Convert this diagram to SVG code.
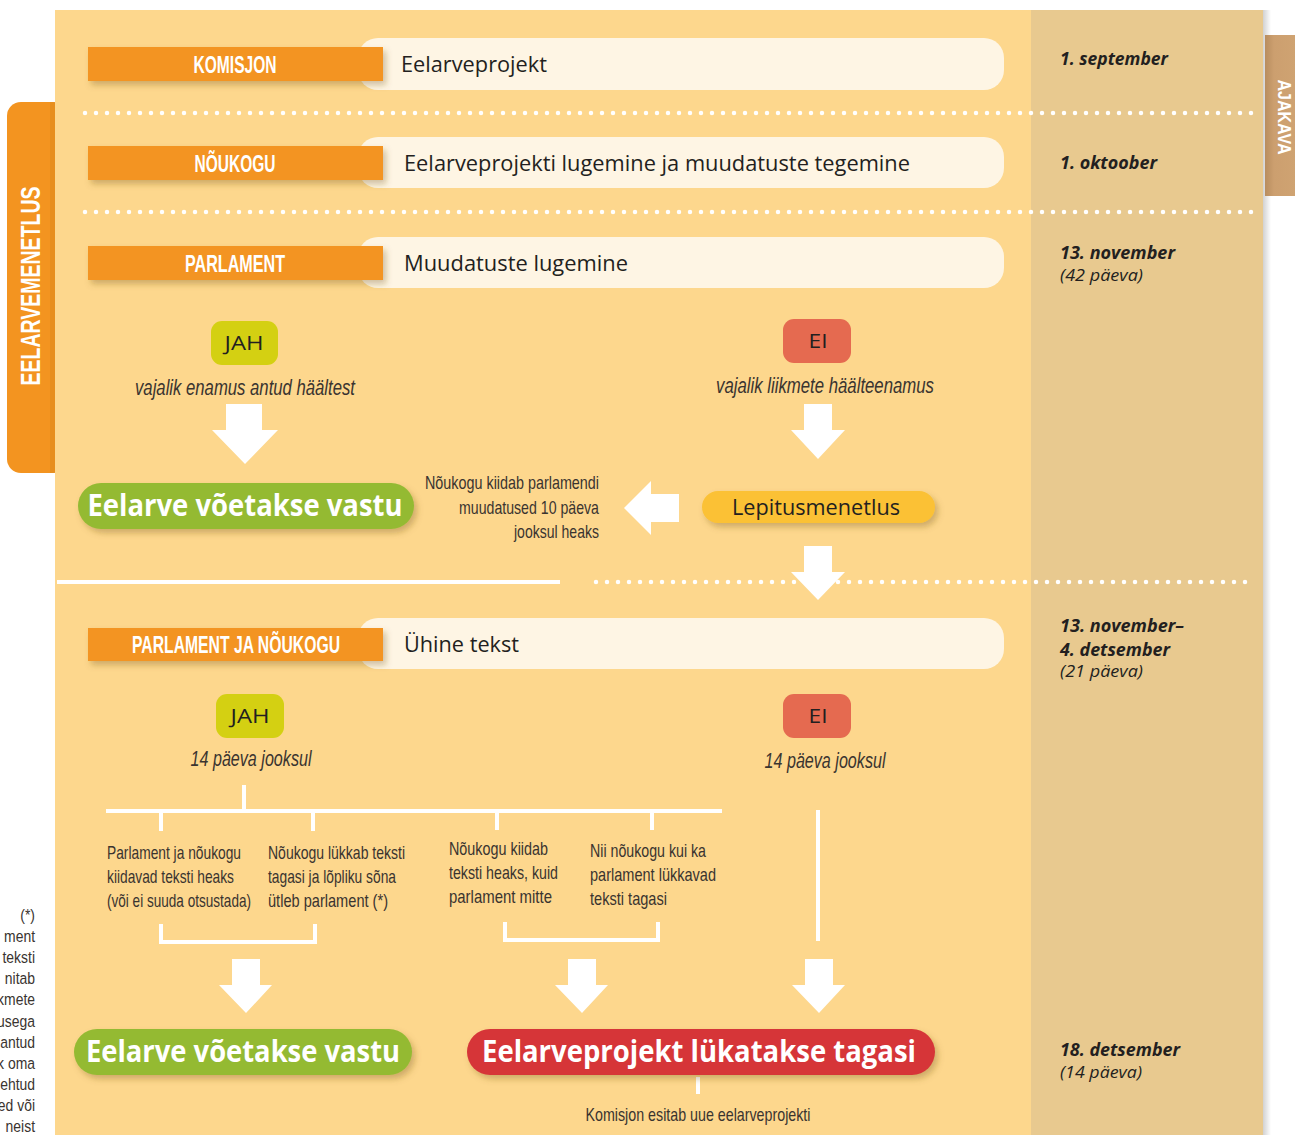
<svg xmlns="http://www.w3.org/2000/svg" width="1295" height="1135" viewBox="0 0 1295 1135">
<style>
.bar{fill:#F39420}
.pill{fill:#FEF5E4}
.barT{font-family:"Liberation Sans",Arial,sans-serif;font-weight:bold;font-size:24px;fill:#fff;text-anchor:middle}
.pillT{font-family:"Open Sans","Liberation Sans",sans-serif;font-size:22px;fill:#231F20}
.date{font-family:"Open Sans","Liberation Sans",sans-serif;font-style:italic;font-weight:bold;font-size:17px;fill:#231F20}
.dateR{font-family:"Open Sans","Liberation Sans",sans-serif;font-style:italic;font-size:17px;fill:#231F20}
.badgeT{font-family:"Open Sans","Liberation Sans",sans-serif;font-size:20px;fill:#231F20;text-anchor:middle}
.cond{font-family:"Liberation Sans",Arial,sans-serif;font-size:19px;fill:#3A3430}
.condI{font-family:"Liberation Sans",Arial,sans-serif;font-style:italic;font-size:22px;fill:#3A3430;text-anchor:middle}
.big{font-family:"Open Sans","Liberation Sans",sans-serif;font-weight:bold;font-size:30px;fill:#fff;text-anchor:middle}
.dots{stroke:#fff;stroke-width:4.5;stroke-linecap:round;stroke-dasharray:0 11;fill:none}
.wl{stroke:#fff;stroke-width:4;fill:none}
.arr{fill:#fff}
</style>
<defs>
<filter id="sh" x="-10%" y="-30%" width="125%" height="180%">
<feDropShadow dx="3" dy="4" stdDeviation="3" flood-color="#7a5a20" flood-opacity="0.35"/>
</filter>
<linearGradient id="edge" x1="0" x2="1" y1="0" y2="0">
<stop offset="0" stop-color="#000" stop-opacity="0.18"/>
<stop offset="1" stop-color="#000" stop-opacity="0"/>
</linearGradient>
<linearGradient id="tabG" x1="0" x2="1" y1="0" y2="0">
<stop offset="0" stop-color="#B88D5F"/>
<stop offset="0.3" stop-color="#CC9F6F"/>
<stop offset="1" stop-color="#CFA372"/>
</linearGradient>
</defs>

<rect x="0" y="0" width="1295" height="1135" fill="#fff"/>

<!-- left cut text -->
<g id="side-note" transform="translate(35,0) scale(0.82,1)" class="cond" font-size="17">
<text x="0" y="921" text-anchor="end" font-size="17">(*)</text>
<text x="0" y="942" text-anchor="end" font-size="17">ment</text>
<text x="0" y="963" text-anchor="end" font-size="17">teksti</text>
<text x="0" y="984" text-anchor="end" font-size="17">nitab</text>
<text x="0" y="1005" text-anchor="end" font-size="17">kmete</text>
<text x="0" y="1027" text-anchor="end" font-size="17">usega</text>
<text x="0" y="1048" text-anchor="end" font-size="17">antud</text>
<text x="0" y="1069" text-anchor="end" font-size="17">k oma</text>
<text x="0" y="1090" text-anchor="end" font-size="17">ehtud</text>
<text x="0" y="1111" text-anchor="end" font-size="17">ed või</text>
<text x="0" y="1132" text-anchor="end" font-size="17">neist</text>
</g>

<!-- panels -->
<rect x="1263" y="10" width="8" height="1125" fill="url(#edge)"/>
<rect x="55" y="10" width="976" height="1125" fill="#FDD78D"/>
<rect x="1031" y="10" width="232" height="1125" fill="#E8C98F"/>

<!-- left tab -->
<g id="tab-left">
<rect x="7" y="102" width="60" height="371" rx="14" fill="#F39420"/>
<rect x="50" y="102" width="6" height="371" fill="#E08A1E" opacity="0.6"/>
<rect x="55" y="95" width="14" height="385" fill="#FDD78D"/>
<text transform="translate(40,286) rotate(-90)" font-family="Liberation Sans,Arial,sans-serif" font-weight="bold" font-size="27" fill="#fff" text-anchor="middle" textLength="199" lengthAdjust="spacingAndGlyphs">EELARVEMENETLUS</text>
</g>

<!-- right tab -->
<g id="tab-right">
<rect x="1265" y="35" width="30" height="161" fill="url(#tabG)"/>
<text transform="translate(1278,117) rotate(90)" font-family="Liberation Sans,Arial,sans-serif" font-weight="bold" font-size="18" fill="#fff" text-anchor="middle" textLength="75" lengthAdjust="spacingAndGlyphs">AJAKAVA</text>
</g>

<!-- separators and connectors -->
<g id="connectors">
<line class="dots" x1="85" y1="113" x2="1252" y2="113"/>
<line class="dots" x1="85" y1="212" x2="1252" y2="212"/>
<line class="wl" x1="57" y1="582" x2="560" y2="582" stroke-width="5"/>
<line class="dots" x1="596" y1="582" x2="1252" y2="582"/>

<polygon class="arr" points="226,404 262,404 262,430 278,430 245,464 212,430 226,430"/>
<polygon class="arr" points="804,404 832,404 832,430 845,430 818,459 791,430 804,430"/>
<polygon class="arr" points="679,494 679,522 651,522 651,535 624,508 651,481 651,494"/>
<polygon class="arr" points="804,546 832,546 832,572 845,572 818,600 791,572 804,572"/>

<line class="wl" x1="244" y1="785" x2="244" y2="811"/>
<line class="wl" x1="106" y1="811" x2="722" y2="811"/>
<line class="wl" x1="161" y1="811" x2="161" y2="831"/>
<line class="wl" x1="313" y1="811" x2="313" y2="831"/>
<line class="wl" x1="497" y1="811" x2="497" y2="830"/>
<line class="wl" x1="652" y1="811" x2="652" y2="830"/>
<polyline class="wl" points="161,924 161,942 315,942 315,924"/>
<polyline class="wl" points="505,922 505,940 658,940 658,922"/>
<line class="wl" x1="818" y1="810" x2="818" y2="941"/>
<polygon class="arr" points="232,959 260,959 260,985 272,985 246,1013 219,985 232,985"/>
<polygon class="arr" points="568,959 596,959 596,985 608,985 582,1013 555,985 568,985"/>
<polygon class="arr" points="805,959 833,959 833,985 845,985 819,1013 792,985 805,985"/>
<line class="wl" x1="698" y1="1077" x2="698" y2="1094"/>
</g>

<!-- rows -->
<g id="row-komisjon">
<rect class="pill" x="358" y="38" width="646" height="52" rx="20"/>
<rect class="bar" x="88" y="47" width="295" height="34" filter="url(#sh)"/>
<text class="barT" x="235" y="73" textLength="83" lengthAdjust="spacingAndGlyphs">KOMISJON</text>
<text class="pillT" x="401" y="72" textLength="146" lengthAdjust="spacingAndGlyphs">Eelarveprojekt</text>
</g>
<g id="row-noukogu">
<rect class="pill" x="358" y="137" width="646" height="51" rx="20"/>
<rect class="bar" x="88" y="146" width="295" height="34" filter="url(#sh)"/>
<text class="barT" x="235" y="172" textLength="81" lengthAdjust="spacingAndGlyphs">NÕUKOGU</text>
<text class="pillT" x="404" y="171" textLength="506" lengthAdjust="spacingAndGlyphs">Eelarveprojekti lugemine ja muudatuste tegemine</text>
</g>
<g id="row-parlament">
<rect class="pill" x="358" y="237" width="646" height="51" rx="20"/>
<rect class="bar" x="88" y="246" width="295" height="34" filter="url(#sh)"/>
<text class="barT" x="235" y="272" textLength="100" lengthAdjust="spacingAndGlyphs">PARLAMENT</text>
<text class="pillT" x="404" y="271" textLength="224" lengthAdjust="spacingAndGlyphs">Muudatuste lugemine</text>
</g>

<!-- dates -->
<g id="dates">
<text class="date" x="1060" y="65" textLength="108" lengthAdjust="spacingAndGlyphs">1. september</text>
<text class="date" x="1060" y="169" textLength="97" lengthAdjust="spacingAndGlyphs">1. oktoober</text>
<text class="date" x="1060" y="259" textLength="115" lengthAdjust="spacingAndGlyphs">13. november</text>
<text class="dateR" x="1060" y="281" textLength="83" lengthAdjust="spacingAndGlyphs">(42 päeva)</text>
<text class="date" x="1060" y="632" textLength="124" lengthAdjust="spacingAndGlyphs">13. november–</text>
<text class="date" x="1060" y="656" textLength="110" lengthAdjust="spacingAndGlyphs">4. detsember</text>
<text class="dateR" x="1060" y="677" textLength="83" lengthAdjust="spacingAndGlyphs">(21 päeva)</text>
<text class="date" x="1060" y="1056" textLength="120" lengthAdjust="spacingAndGlyphs">18. detsember</text>
<text class="dateR" x="1060" y="1078" textLength="82" lengthAdjust="spacingAndGlyphs">(14 päeva)</text>
</g>

<g id="jah-1">
<rect x="211" y="321" width="67" height="44" rx="11" fill="#D4D012"/>
<text class="badgeT" x="244" y="350" textLength="39" lengthAdjust="spacingAndGlyphs">JAH</text>
<text class="condI" x="245" y="395" textLength="220" lengthAdjust="spacingAndGlyphs">vajalik enamus antud häältest</text>
</g>
<g id="ei-1">
<rect x="783" y="319" width="68" height="44" rx="11" fill="#E56A50"/>
<text class="badgeT" x="818" y="348" textLength="19" lengthAdjust="spacingAndGlyphs">EI</text>
<text class="condI" x="825" y="393" textLength="218" lengthAdjust="spacingAndGlyphs">vajalik liikmete häälteenamus</text>
</g>
<g id="vastu-1">
<rect x="78" y="483" width="336" height="46" rx="23" fill="#94BA33" filter="url(#sh)"/>
<text class="big" x="245" y="516" textLength="315" lengthAdjust="spacingAndGlyphs">Eelarve võetakse vastu</text>
</g>
<g id="lepitus">
<rect x="702" y="491" width="233" height="32" rx="16" fill="#FBC135" filter="url(#sh)"/>
<text class="pillT" x="816" y="515" font-size="21" text-anchor="middle" textLength="168" lengthAdjust="spacingAndGlyphs">Lepitusmenetlus</text>
</g>
<g id="note-lepitus" class="cond">
<text x="599" y="489" text-anchor="end" textLength="174" lengthAdjust="spacingAndGlyphs">Nõukogu kiidab parlamendi</text>
<text x="599" y="514" text-anchor="end" textLength="140" lengthAdjust="spacingAndGlyphs">muudatused 10 päeva</text>
<text x="599" y="538" text-anchor="end" textLength="85" lengthAdjust="spacingAndGlyphs">jooksul heaks</text>
</g>

<g id="row-parlament-noukogu">
<rect class="pill" x="358" y="618" width="646" height="51" rx="20"/>
<rect class="bar" x="88" y="628" width="295" height="33" filter="url(#sh)"/>
<text class="barT" x="236" y="653" textLength="208" lengthAdjust="spacingAndGlyphs">PARLAMENT JA NÕUKOGU</text>
<text class="pillT" x="404" y="652" textLength="115" lengthAdjust="spacingAndGlyphs">Ühine tekst</text>
</g>

<g id="jah-2">
<rect x="216" y="694" width="68" height="44" rx="11" fill="#D4D012"/>
<text class="badgeT" x="250" y="723" textLength="39" lengthAdjust="spacingAndGlyphs">JAH</text>
<text class="condI" x="251" y="766" textLength="121" lengthAdjust="spacingAndGlyphs">14 päeva jooksul</text>
</g>
<g id="ei-2">
<rect x="783" y="694" width="68" height="44" rx="11" fill="#E56A50"/>
<text class="badgeT" x="818" y="723" textLength="19" lengthAdjust="spacingAndGlyphs">EI</text>
<text class="condI" x="825" y="768" textLength="121" lengthAdjust="spacingAndGlyphs">14 päeva jooksul</text>
</g>

<g id="col-1" class="cond">
<text x="107" y="859" textLength="134" lengthAdjust="spacingAndGlyphs">Parlament ja nõukogu</text>
<text x="107" y="883" textLength="127" lengthAdjust="spacingAndGlyphs">kiidavad teksti heaks</text>
<text x="107" y="907" textLength="144" lengthAdjust="spacingAndGlyphs">(või ei suuda otsustada)</text>
</g>
<g id="col-2" class="cond">
<text x="268" y="859" textLength="137" lengthAdjust="spacingAndGlyphs">Nõukogu lükkab teksti</text>
<text x="268" y="883" textLength="128" lengthAdjust="spacingAndGlyphs">tagasi ja lõpliku sõna</text>
<text x="268" y="907" textLength="120" lengthAdjust="spacingAndGlyphs">ütleb parlament (*)</text>
</g>
<g id="col-3" class="cond">
<text x="449" y="855" textLength="99" lengthAdjust="spacingAndGlyphs">Nõukogu kiidab</text>
<text x="449" y="879" textLength="109" lengthAdjust="spacingAndGlyphs">teksti heaks, kuid</text>
<text x="449" y="903" textLength="103" lengthAdjust="spacingAndGlyphs">parlament mitte</text>
</g>
<g id="col-4" class="cond">
<text x="590" y="857" textLength="116" lengthAdjust="spacingAndGlyphs">Nii nõukogu kui ka</text>
<text x="590" y="881" textLength="126" lengthAdjust="spacingAndGlyphs">parlament lükkavad</text>
<text x="590" y="905" textLength="77" lengthAdjust="spacingAndGlyphs">teksti tagasi</text>
</g>

<g id="vastu-2">
<rect x="74" y="1029" width="338" height="46" rx="23" fill="#94BA33" filter="url(#sh)"/>
<text class="big" x="243" y="1062" textLength="314" lengthAdjust="spacingAndGlyphs">Eelarve võetakse vastu</text>
</g>
<g id="tagasi">
<rect x="467" y="1029" width="468" height="46" rx="23" fill="#D63638" filter="url(#sh)"/>
<text class="big" x="699" y="1062" textLength="434" lengthAdjust="spacingAndGlyphs">Eelarveprojekt lükatakse tagasi</text>
</g>
<g id="komisjon-uus" class="cond">
<text x="698" y="1121" text-anchor="middle" textLength="225" lengthAdjust="spacingAndGlyphs">Komisjon esitab uue eelarveprojekti</text>
</g>
</svg>
